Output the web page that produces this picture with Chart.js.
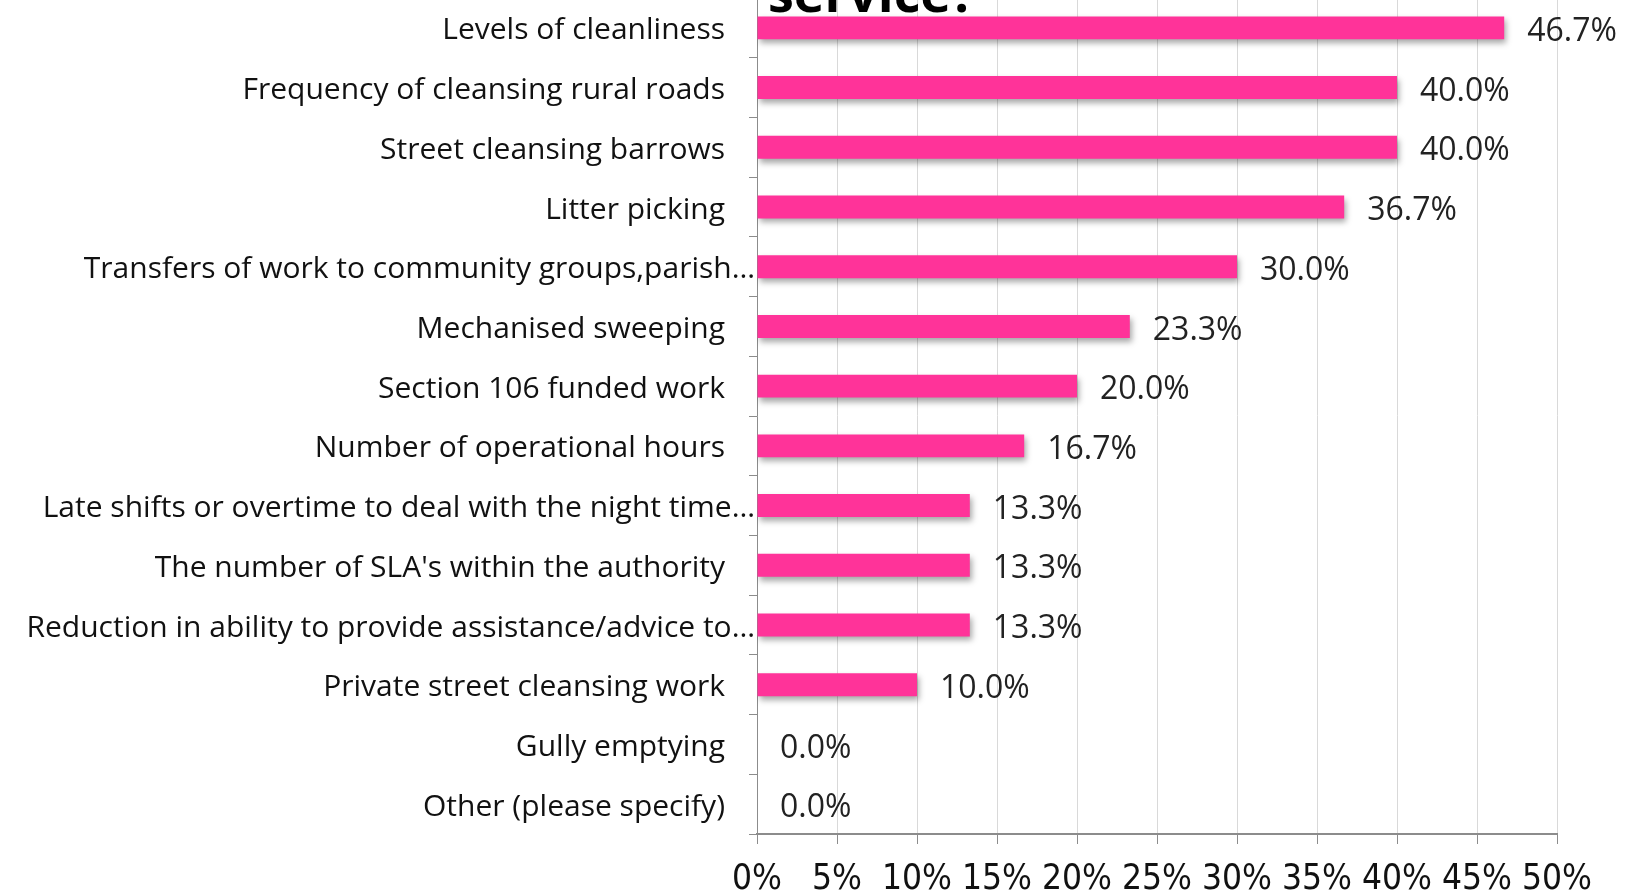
<!DOCTYPE html>
<html>
<head>
<meta charset="utf-8">
<script src="https://cdn.jsdelivr.net/npm/chart.js@4/dist/chart.umd.min.js"></script>
<style>
  html, body { margin: 0; padding: 0; background: #fff; overflow: hidden; }
  #wrap { position: absolute; left: 0; top: -40px; width: 1634px; height: 931px; }
</style>
</head>
<body>
<div id="wrap"><canvas id="chart"></canvas></div>
<script>
const categories = [
  "Levels of cleanliness",
  "Frequency of cleansing rural roads",
  "Street cleansing barrows",
  "Litter picking",
  "Transfers of work to community groups,parish…",
  "Mechanised sweeping",
  "Section 106 funded work",
  "Number of operational hours",
  "Late shifts or overtime to deal with the night time…",
  "The number of SLA's within the authority",
  "Reduction in ability to provide assistance/advice to…",
  "Private street cleansing work",
  "Gully emptying",
  "Other (please specify)"
];
const percentages = [46.7, 40.0, 40.0, 36.7, 30.0, 23.3, 20.0, 16.7, 13.3, 13.3, 13.3, 10.0, 0.0, 0.0];
const xTicks = [0, 5, 10, 15, 20, 25, 30, 35, 40, 45, 50];
const titleTail = "service?";

// drop shadow under the bars, like the original spreadsheet chart
const barShadow = {
  id: "barShadow",
  beforeDatasetDraw(chart) {
    const ctx = chart.ctx;
    ctx.save();
    ctx.shadowColor = "rgba(0,0,0,0.35)";
    ctx.shadowBlur = 6;
    ctx.shadowOffsetX = 2;
    ctx.shadowOffsetY = 4;
  },
  afterDatasetDraw(chart) {
    chart.ctx.restore();
  }
};

// value labels to the right of each bar + the cut off title
const valueLabels = {
  id: "valueLabels",
  afterDatasetsDraw(chart) {
    const ctx = chart.ctx;
    const meta = chart.getDatasetMeta(0);
    ctx.save();
    ctx.font = "32px 'Open Sans', Lato, sans-serif";
    ctx.fillStyle = "#222";
    ctx.textAlign = "left";
    ctx.textBaseline = "middle";
    meta.data.forEach((bar, i) => {
      ctx.fillText(percentages[i].toFixed(1) + "%", bar.x + 23, bar.y + 4);
    });
    ctx.font = "bold 52px 'Open Sans', Lato, sans-serif";
    ctx.fillStyle = "#000";
    ctx.textBaseline = "alphabetic";
    ctx.fillText(titleTail, 768, 52);
    ctx.restore();
  }
};

new Chart(document.getElementById("chart"), {
  type: "bar",
  data: {
    labels: categories,
    datasets: [{
      data: percentages,
      backgroundColor: "#ff3399",
      borderWidth: 0,
      categoryPercentage: 0.6,
      barPercentage: 0.64
    }]
  },
  options: {
    indexAxis: "y",
    responsive: true,
    maintainAspectRatio: false,
    animation: false,
    layout: { padding: { top: 38, right: 77, left: 0, bottom: 0 } },
    plugins: {
      legend: { display: false },
      tooltip: { enabled: false }
    },
    scales: {
      x: {
        min: 0,
        max: 50,
        afterBuildTicks(scale) {
          scale.ticks = xTicks.map(v => ({ value: v }));
        },
        afterFit(scale) { scale.height = 57; },
        grid: { color: "#d9d9d9", lineWidth: 1, tickColor: "#8c8c8c", tickLength: 10 },
        border: { color: "#8c8c8c", width: 2 },
        ticks: {
          padding: 15,
          color: "#111",
          maxRotation: 0,
          font: { family: "'Liberation Sans Narrow', 'DejaVu Sans Condensed', Lato, sans-serif", size: 35 },
          callback: v => v + "%"
        }
      },
      y: {
        afterFit(scale) { scale.width = 757; },
        grid: { offset: true, drawOnChartArea: false, tickColor: "#8c8c8c", tickLength: 8 },
        border: { color: "#8c8c8c", width: 1 },
        ticks: {
          padding: -6,
          labelOffset: 3,
          color: "#111",
          autoSkip: false,
          font: { family: "'Open Sans', Lato, sans-serif", size: 30 },
          // shortened labels run up to the axis, full ones stop a bit short of it
          callback(v) {
            const s = this.getLabelForValue(v);
            return s.endsWith("…") ? s : s + "\u2003";
          }
        }
      }
    }
  },
  plugins: [barShadow, valueLabels]
});
</script>
</body>
</html>
